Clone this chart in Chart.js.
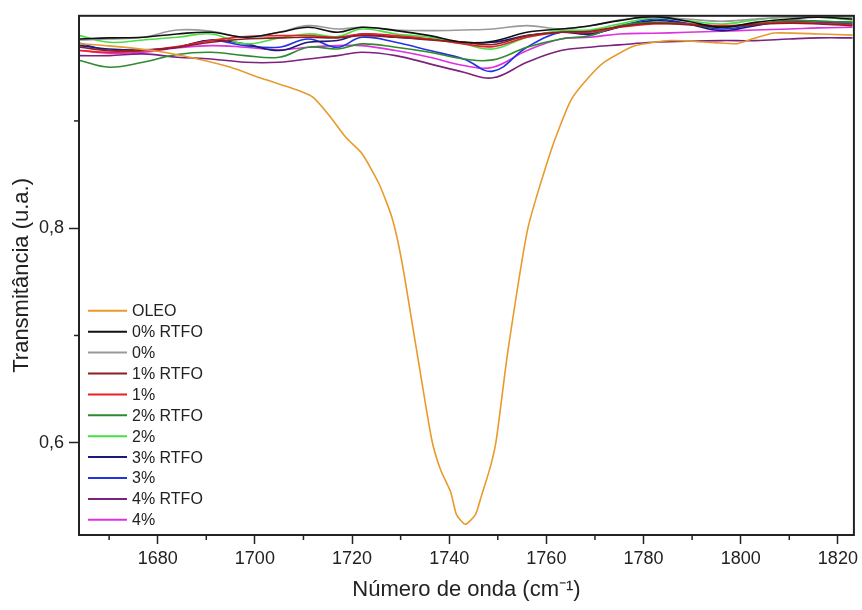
<!DOCTYPE html>
<html>
<head>
<meta charset="utf-8">
<script src="https://cdn.jsdelivr.net/npm/chart.js@4.4.1/dist/chart.umd.min.js"></script>
<style>
  html, body { margin: 0; padding: 0; background: #fff; }
  #wrap { width: 862px; height: 610px; position: relative; }
</style>
</head>
<body>
<div id="wrap"><canvas id="ftir"></canvas></div>
<script>
// wavenumber grid shared by the ten sample spectra (cm-1)
const wavenumbers = [1664, 1670, 1677, 1684, 1691, 1698, 1705, 1711, 1717, 1722, 1729, 1736, 1743,
  1749, 1756, 1763, 1769, 1775, 1782, 1789, 1796, 1803, 1810, 1816, 1823];

// OLEO has its own, denser sampling around the carbonyl band
const oleoX = [1664, 1670, 1680, 1688, 1695, 1701.5, 1709, 1712, 1715.3, 1718.7, 1722, 1725.5, 1728.2,
  1730.2, 1733.3, 1736.4, 1738.2, 1740.3, 1741.5, 1743.3, 1745.4, 1746.6, 1748.5, 1749.7, 1752.1,
  1756.2, 1761, 1765, 1768.5, 1772, 1778.2, 1785.6, 1794.6, 1799.3, 1802.8, 1806.9, 1816.3, 1823];
const oleoY = [0.972, 0.970, 0.965, 0.958, 0.950, 0.9395, 0.9284, 0.9219, 0.9051, 0.8847, 0.8698, 0.8419, 0.8102,
  0.7702, 0.686, 0.603, 0.575, 0.554, 0.533, 0.524, 0.533, 0.550, 0.578, 0.603, 0.686,
  0.800, 0.873, 0.919, 0.9395, 0.955, 0.970, 0.975, 0.973, 0.972, 0.977, 0.982, 0.981, 0.980];

const rtfo0 = [0.9764, 0.9774, 0.9780, 0.9811, 0.9826, 0.9780, 0.9826, 0.9873, 0.9826, 0.9873, 0.9842, 0.9795, 0.9733,
  0.9743, 0.9826, 0.9857, 0.9888, 0.9935, 0.9972, 0.9929, 0.9873, 0.9919, 0.9950, 0.9966, 0.9950];
const plain0 = [0.9755, 0.9764, 0.9780, 0.9848, 0.9836, 0.9780, 0.9826, 0.9888, 0.9857, 0.9873, 0.9848, 0.9842, 0.9848,
  0.9857, 0.9888, 0.9857, 0.9888, 0.9941, 0.9966, 0.9950, 0.9929, 0.9950, 0.9966, 0.9972, 0.9966];
const rtfo1 = [0.9687, 0.9656, 0.9656, 0.9687, 0.9733, 0.9764, 0.9774, 0.9780, 0.9774, 0.9795, 0.9780, 0.9755, 0.9733,
  0.9712, 0.9795, 0.9826, 0.9836, 0.9879, 0.9910, 0.9898, 0.9879, 0.9898, 0.9910, 0.9904, 0.9888];
const plain1 = [0.9656, 0.9640, 0.9656, 0.9693, 0.9749, 0.9786, 0.9795, 0.9795, 0.9780, 0.9811, 0.9795, 0.9764, 0.9718,
  0.9693, 0.9780, 0.9826, 0.9826, 0.9873, 0.9904, 0.9904, 0.9888, 0.9904, 0.9919, 0.9910, 0.9898];
const rtfo2 = [0.9563, 0.9501, 0.9547, 0.9619, 0.9640, 0.9609, 0.9594, 0.9687, 0.9671, 0.9718, 0.9687, 0.9640, 0.9578,
  0.9569, 0.9687, 0.9764, 0.9795, 0.9888, 0.9919, 0.9904, 0.9873, 0.9904, 0.9935, 0.9929, 0.9919];
const plain2 = [0.9795, 0.9733, 0.9755, 0.9780, 0.9811, 0.9718, 0.9774, 0.9811, 0.9786, 0.9857, 0.9811, 0.9780, 0.9718,
  0.9671, 0.9780, 0.9842, 0.9848, 0.9904, 0.9960, 0.9935, 0.9904, 0.9941, 0.9972, 0.9966, 0.9941];
const rtfo3 = [0.9702, 0.9671, 0.9662, 0.9687, 0.9755, 0.9718, 0.9656, 0.9733, 0.9749, 0.9811, 0.9780, 0.9764, 0.9733,
  0.9733, 0.9795, 0.9826, 0.9811, 0.9873, 0.9935, 0.9904, 0.9842, 0.9888, 0.9935, 0.9929, 0.9919];
const plain3 = [0.9724, 0.9656, 0.9656, 0.9687, 0.9749, 0.9702, 0.9687, 0.9764, 0.9687, 0.9780, 0.9733, 0.9656, 0.9578,
  0.9464, 0.9687, 0.9826, 0.9811, 0.9879, 0.9950, 0.9910, 0.9857, 0.9898, 0.9929, 0.9919, 0.9904];
const rtfo4 = [0.9609, 0.9609, 0.9625, 0.9594, 0.9578, 0.9547, 0.9547, 0.9578, 0.9609, 0.9640, 0.9609, 0.9532, 0.9454,
  0.9402, 0.9547, 0.9656, 0.9687, 0.9709, 0.9733, 0.9743, 0.9749, 0.9749, 0.9764, 0.9774, 0.9774];
const plain4 = [0.9656, 0.9631, 0.9640, 0.9680, 0.9702, 0.9687, 0.9662, 0.9687, 0.9702, 0.9702, 0.9656, 0.9594, 0.9516,
  0.9501, 0.9656, 0.9764, 0.9780, 0.9811, 0.9817, 0.9826, 0.9836, 0.9848, 0.9857, 0.9867, 0.9873];

const seriesNames = ["OLEO", "0% RTFO", "0%", "1% RTFO", "1%", "2% RTFO", "2%", "3% RTFO", "3%", "4% RTFO", "4%"];
const seriesColors = ["#e89a2c", "#111111", "#999999", "#8c2020", "#e8202a", "#2f8a2f", "#44e044",
  "#1a1a7a", "#2233e0", "#7a227e", "#e030e0"];
const sampleSeries = [rtfo0, plain0, rtfo1, plain1, rtfo2, plain2, rtfo3, plain3, rtfo4, plain4];

const xMajor = [1680, 1700, 1720, 1740, 1760, 1780, 1800, 1820];
const xMinor = [1670, 1690, 1710, 1730, 1750, 1770, 1790, 1810];
const yMajor = [0.6, 0.8];
const yMinor = [0.7, 0.9];

const INK = "#222";

function toPoints(xs, ys) {
  return xs.map((x, i) => ({ x, y: ys[i] }));
}

function buildDatasets() {
  const all = [toPoints(oleoX, oleoY)].concat(sampleSeries.map((s) => toPoints(wavenumbers, s)));
  return all.map((pts, i) => ({
    label: seriesNames[i],
    data: pts,
    borderColor: seriesColors[i],
    backgroundColor: seriesColors[i],
    borderWidth: 1.6,
    pointRadius: 0,
    tension: i === 0 ? 0.2 : 0.4,
    fill: false,
  }));
}

// frame round the plot, the short minor ticks and the legend inside the plot
const framePlugin = {
  id: "frame",
  afterDraw(chart) {
    const { ctx, chartArea: a, scales } = chart;
    ctx.save();
    ctx.strokeStyle = INK;
    ctx.lineWidth = 1.5;
    xMinor.forEach((v) => {
      const px = scales.x.getPixelForValue(v);
      ctx.beginPath();
      ctx.moveTo(px, a.bottom);
      ctx.lineTo(px, a.bottom + 5);
      ctx.stroke();
    });
    yMinor.forEach((v) => {
      const py = scales.y.getPixelForValue(v);
      ctx.beginPath();
      ctx.moveTo(a.left - 5, py);
      ctx.lineTo(a.left, py);
      ctx.stroke();
    });
    ctx.lineWidth = 2;
    ctx.strokeRect(a.left, a.top, a.right - a.left, a.bottom - a.top);

    // legend
    const x0 = a.left + 9;
    const y0 = a.top + 295;
    const step = 20.9;
    ctx.font = '16px "Liberation Sans", Arial, sans-serif';
    ctx.textBaseline = "middle";
    ctx.fillStyle = INK;
    chart.data.datasets.forEach((ds, i) => {
      const y = y0 + i * step;
      ctx.strokeStyle = ds.borderColor;
      ctx.lineWidth = 2;
      ctx.beginPath();
      ctx.moveTo(x0, y);
      ctx.lineTo(x0 + 39, y);
      ctx.stroke();
      ctx.fillText(ds.label, x0 + 44, y + 1);
    });
    ctx.restore();
  },
};

function initChart() {
  const el = document.getElementById("ftir");
  return new Chart(el.getContext("2d"), {
    type: "line",
    data: { datasets: buildDatasets() },
    options: {
      responsive: true,
      maintainAspectRatio: false,
      animation: false,
      layout: { padding: { top: 15, right: 5, left: 0, bottom: 0 } },
      plugins: { legend: { display: false }, tooltip: { enabled: false } },
      scales: {
        x: {
          type: "linear",
          min: 1663.8,
          max: 1823.3,
          afterBuildTicks: (s) => { s.ticks = xMajor.map((v) => ({ value: v })); },
          afterFit: (s) => { s.height = 75; },
          grid: { drawOnChartArea: false, tickLength: 9, color: INK, tickWidth: 1.5 },
          border: { display: false },
          ticks: {
            color: INK,
            padding: 4,
            maxRotation: 0,
            font: { family: '"Liberation Sans", Arial, sans-serif', size: 18 },
            callback: (v) => String(v),
          },
          title: {
            display: true,
            text: "Número de onda (cm⁻¹)",
            color: INK,
            padding: { top: 0, bottom: 7 },
            font: { family: '"Liberation Sans", Arial, sans-serif', size: 22 },
          },
        },
        y: {
          type: "linear",
          min: 0.514,
          max: 0.998,
          afterBuildTicks: (s) => { s.ticks = yMajor.map((v) => ({ value: v })); },
          afterFit: (s) => { s.width = 79; },
          grid: { drawOnChartArea: false, tickLength: 10, color: INK, tickWidth: 1.5 },
          border: { display: false },
          ticks: {
            color: INK,
            padding: 5,
            font: { family: '"Liberation Sans", Arial, sans-serif', size: 18 },
            callback: (v) => Number(v).toFixed(1).replace(".", ","),
          },
          title: {
            display: true,
            text: "Transmitância (u.a.)",
            color: INK,
            padding: { top: 9, bottom: 0 },
            font: { family: '"Liberation Sans", Arial, sans-serif', size: 22 },
          },
        },
      },
    },
    plugins: [framePlugin],
  });
}

document.addEventListener("DOMContentLoaded", initChart);
</script>
</body>
</html>
